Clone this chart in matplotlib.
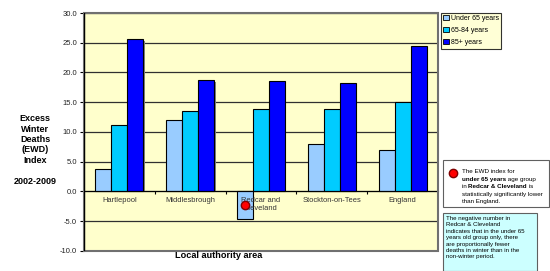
import numpy as np
import matplotlib.pyplot as plt
from matplotlib.patches import Patch, Rectangle
from matplotlib.lines import Line2D
from matplotlib.text import Annotation

plt.rcParams['font.family'] = ['Liberation Sans', 'DejaVu Sans']

areas = ['Hartlepool', 'Middlesbrough', 'Redcar and\nCleveland', 'Stockton-on-Tees', 'England']
under65 = [3.7, 12.0, -4.6, 8.0, 7.0]
age65_84 = [11.1, 13.5, 13.8, 13.9, 15.1]
age85plus = [25.6, 18.7, 18.5, 18.3, 24.4]
series_names = ['Under 65 years', '65-84 years', '85+ years']
series_colors = ['#99CCFF', '#00CCFF', '#0000FF']
# red marker: significant difference point (Redcar, under 65)
sig_area = 2
sig_y = -2.2

fig = plt.figure(figsize=(5.5, 2.71), dpi=100)
ax = fig.add_axes([0.1527, 0.074, 0.6436, 0.878])
ax.set_facecolor('#FFFFCC')

x = np.arange(len(areas))
w = 0.226
for i, vals in enumerate([under65, age65_84, age85plus]):
    xs = x + (i - 1) * w
    # little grey shadow like the spreadsheet bars
    ax.bar(xs + 0.02, np.array(vals) - 0.25 * np.sign(vals), width=w, color='#808080', zorder=2)
    ax.bar(xs, vals, width=w, color=series_colors[i], edgecolor='black', linewidth=0.8, zorder=3)

ax.plot(x[sig_area] - w, sig_y, 'o', color='red', markeredgecolor='#800000', markersize=6, zorder=5)

ax.set_xlim(-0.5, 4.5)
ax.set_ylim(-10, 30)
ax.set_yticks(np.arange(-10, 31, 5))
ax.set_yticklabels(['%.1f' % v for v in np.arange(-10, 31, 5)], fontsize=5.5, color='#222222')
ax.yaxis.grid(True, color='#303030', linewidth=0.9, zorder=1)
ax.set_axisbelow(True)

for s in ['top', 'right', 'left']:
    ax.spines[s].set_visible(False)
ax.spines['bottom'].set_position(('data', 0))
ax.spines['bottom'].set_color('black')
ax.spines['bottom'].set_zorder(4)
ax.set_xticks(np.arange(0.5, 4.5, 1))
ax.set_xticklabels([])
ax.tick_params(axis='x', direction='out', length=2, width=0.8)
ax.tick_params(axis='y', direction='out', length=3, width=0.8, pad=2)
ax.add_patch(Rectangle((0, 0), 1, 1, transform=ax.transAxes, fill=False,
                       edgecolor='#707070', linewidth=1.5, zorder=6, clip_on=False))
ax.axvline(-0.5, color='black', linewidth=1.0, zorder=6)

for xi, name in zip(x, areas):
    ax.text(xi, -0.9, name, ha='center', va='top', fontsize=5.4, color='#333333',
            linespacing=1.2, zorder=4)

fig.text(0.397, 0.058, 'Local authority area', ha='center', va='center',
         fontsize=6.6, fontweight='bold')
fig.text(0.064, 1 - 150 / 271, 'Excess\nWinter\nDeaths\n(EWD)\nIndex\n\n2002-2009', ha='center',
         va='center', fontsize=6.5, fontweight='bold', linespacing=1.2)

handles = [Patch(facecolor=c, edgecolor='black', linewidth=0.6) for c in series_colors]
leg = fig.legend(handles, series_names, loc='upper left', bbox_to_anchor=(0.801, 0.953),
                 fontsize=5, frameon=True, fancybox=False, handlelength=0.8, handleheight=0.8,
                 handletextpad=0.3, borderpad=0.35, labelspacing=0.7, borderaxespad=0)
leg.get_frame().set_facecolor('#FFFFCC')
leg.get_frame().set_edgecolor('black')
leg.get_frame().set_linewidth(0.8)

# note box 1
fig.patches.append(Rectangle((443 / 550, 1 - 207 / 271), 106 / 550, 47 / 271, transform=fig.transFigure,
                             facecolor='white', edgecolor='#606060', linewidth=0.8))
fig.lines.append(Line2D([453 / 550], [1 - 173 / 271], marker='o', color='red', markersize=6,
                        markeredgecolor='#800000', transform=fig.transFigure))
note1 = [[('The EWD index for', 'normal')],
         [('under 65 years', 'bold'), (' age group', 'normal')],
         [('in ', 'normal'), ('Redcar & Cleveland', 'bold'), (' is', 'normal')],
         [('statistically significantly lower', 'normal')],
         [('than England.', 'normal')]]
for k, line in enumerate(note1):
    yy = 1 - (171.5 + k * 7.6) / 271
    prev = None
    for txt, wt in line:
        if prev is None:
            prev = fig.text(462 / 550, yy, txt, fontsize=4.5, fontweight=wt, va='center',
                            ha='left', zorder=5)
        else:
            # chain the next piece right after the previous one
            prev = fig.add_artist(Annotation(txt, xy=(1, 0.5), xycoords=prev, fontsize=4.5,
                                             fontweight=wt, va='center', ha='left',
                                             annotation_clip=False, zorder=5))

# note box 2
fig.patches.append(Rectangle((443 / 550, 0.0), 94 / 550, 58 / 271, transform=fig.transFigure,
                             facecolor='#CCFFFF', edgecolor='#606060', linewidth=0.8))
note2 = ('The negative number in\nRedcar & Cleveland\nindicates that in the under 65\n'
         'years old group only, there\nare proportionally fewer\ndeaths in winter than in the\n'
         'non-winter period.')
fig.text(446 / 550, 1 - 216 / 271, note2, fontsize=4.4, va='top', ha='left',
         linespacing=1.35, zorder=5)

fig.savefig('out.png', dpi=100)
